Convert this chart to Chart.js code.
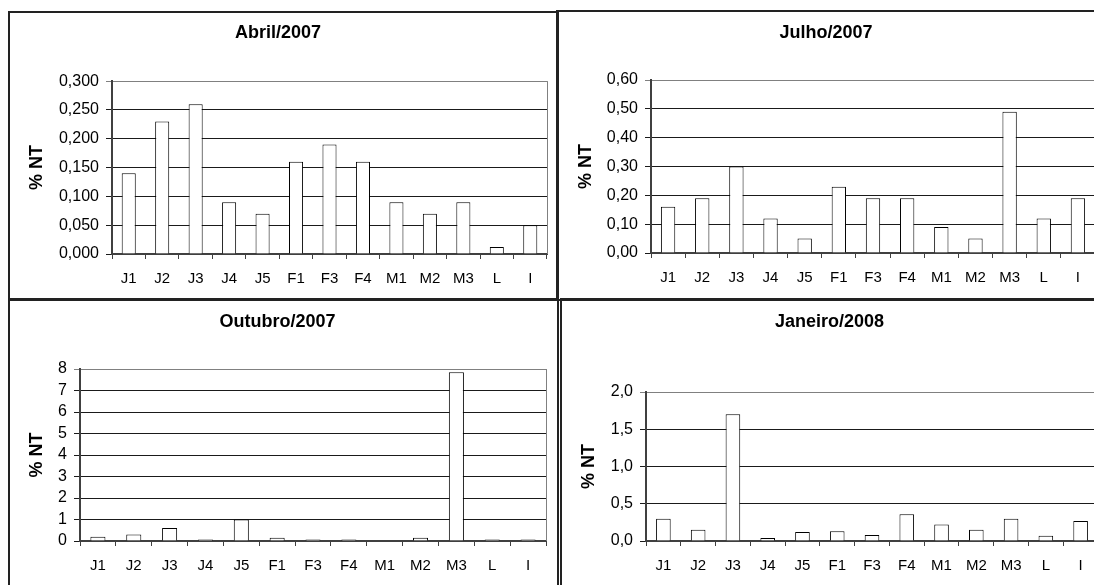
<!DOCTYPE html>
<html>
<head>
<meta charset="utf-8">
<script src="https://cdn.jsdelivr.net/npm/chart.js@4.4.0/dist/chart.umd.min.js"></script>
<style>
html,body{margin:0;padding:0;background:#fff;}
body{width:1094px;height:585px;overflow:hidden;position:relative;}
canvas{position:absolute;}
.box{position:absolute;border:2px solid #222;box-sizing:border-box;pointer-events:none;}
</style>
</head>
<body>
<canvas id="canvas1" style="left:9px;top:12px;width:548px;height:287px" width="548" height="287"></canvas>
<canvas id="canvas2" style="left:557px;top:11px;width:548px;height:288px" width="548" height="288"></canvas>
<canvas id="canvas3" style="left:9px;top:299px;width:548px;height:286px" width="548" height="286"></canvas>
<canvas id="canvas4" style="left:561px;top:299px;width:547px;height:286px" width="547" height="286"></canvas>
<div class="box" style="left:8px;top:11px;width:551px;height:290px"></div>
<div class="box" style="left:556px;top:10px;width:600px;height:291px"></div>
<div class="box" style="left:8px;top:298px;width:551px;height:400px"></div>
<div class="box" style="left:560px;top:298px;width:600px;height:400px"></div>
<script>
// categorias (pontos de coleta)
var categorias = ["J1","J2","J3","J4","J5","F1","F3","F4","M1","M2","M3","L","I"];

// % NT por campanha
var abril2007   = [0.14,0.23,0.26,0.09,0.07,0.16,0.19,0.16,0.09,0.07,0.09,0.012,0.05];
var julho2007   = [0.16,0.19,0.30,0.12,0.05,0.23,0.19,0.19,0.09,0.05,0.49,0.12,0.19];
var outubro2007 = [0.2,0.3,0.6,0.07,1.0,0.15,0.07,0.07,0,0.15,7.85,0.07,0.07];
var janeiro2008 = [0.30,0.15,1.70,0.04,0.12,0.13,0.08,0.36,0.22,0.15,0.30,0.07,0.27];

// marcas do eixo y
var abrilTickVal   = [0,0.05,0.1,0.15,0.2,0.25,0.3];
var abrilTickTxt   = ["0,000","0,050","0,100","0,150","0,200","0,250","0,300"];
var julhoTickVal   = [0,0.1,0.2,0.3,0.4,0.5,0.6];
var julhoTickTxt   = ["0,00","0,10","0,20","0,30","0,40","0,50","0,60"];
var outubroTickVal = [0,1,2,3,4,5,6,7,8];
var outubroTickTxt = ["0","1","2","3","4","5","6","7","8"];
var janeiroTickVal = [0,0.5,1,1.5,2];
var janeiroTickTxt = ["0,0","0,5","1,0","1,5","2,0"];

var fonte = "'Liberation Sans', Arial, sans-serif";

/**
 * borda cinza do lado direito da area do grafico
 */
var moldura = {
	id: 'moldura',
	beforeDatasetsDraw: function(chart){
		var a = chart.chartArea, ctx = chart.ctx;
		var x = Math.round(a.right) + 0.5;
		ctx.save();
		ctx.strokeStyle = '#808080';
		ctx.lineWidth = 1;
		ctx.beginPath();
		ctx.moveTo(x, a.top);
		ctx.lineTo(x, a.bottom);
		ctx.stroke();
		ctx.restore();
	}
};

/**
 * desenha um grafico de barras
 */
function paintBar(canvasId, titulo, valores, tickVal, tickTxt, lay){
	var ultimo = tickVal.length - 1;
	var config = {
		type: 'bar',
		data: {
			labels: categorias,
			datasets: [{
				data: valores,
				backgroundColor: '#ffffff',
				borderColor: '#000000',
				borderWidth: 1,
				barPercentage: 0.42,
				categoryPercentage: 1
			}]
		},
		options: {
			responsive: false,
			animation: false,
			devicePixelRatio: 1,
			layout: { padding: { left: 0, right: lay.right, top: 0, bottom: 0 } },
			plugins: {
				legend: { display: false },
				tooltip: { enabled: false },
				title: {
					display: true,
					text: titulo,
					color: '#000',
					font: { family: fonte, size: 18, weight: 'bold' },
					padding: { top: lay.titleTop, bottom: lay.titleBottom }
				}
			},
			scales: {
				x: {
					grid: { drawOnChartArea: false, offset: true, tickLength: 5, color: '#404040' },
					border: { color: '#404040', width: 2 },
					ticks: { color: '#000', padding: 11, maxRotation: 0, autoSkip: false,
						font: { family: fonte, size: 15 } },
					afterFit: function(s){ s.height = lay.xh; }
				},
				y: {
					min: 0,
					max: tickVal[ultimo],
					afterBuildTicks: function(s){
						s.ticks = tickVal.map(function(v){ return { value: v }; });
					},
					grid: {
						tickLength: 6,
						color: function(c){ return c.index === ultimo ? '#808080' : '#1a1a1a'; }
					},
					border: { color: '#404040', width: 2 },
					ticks: {
						color: '#000', padding: 7, autoSkip: false,
						font: { family: fonte, size: 16 },
						callback: function(v, i){ return tickTxt[i]; }
					},
					title: {
						display: true, text: '% NT', color: '#000',
						font: { family: fonte, size: 18, weight: 'bold' },
						padding: { top: lay.yt, bottom: 0 }
					},
					afterFit: function(s){ s.width = lay.left; }
				}
			}
		},
		plugins: [moldura]
	};
	var ctx = document.getElementById(canvasId).getContext("2d");
	return new Chart(ctx, config);
}

window.graf1 = paintBar("canvas1", "Abril/2007", abril2007, abrilTickVal, abrilTickTxt,
	{ left: 103, right: 10, xh: 45, titleTop: 10.5, titleBottom: 37, yt: 17.7 });
window.graf2 = paintBar("canvas2", "Julho/2007", julho2007, julhoTickVal, julhoTickTxt,
	{ left: 94, right: 10, xh: 46, titleTop: 11.2, titleBottom: 36.2, yt: 18.2 });
window.graf3 = paintBar("canvas3", "Outubro/2007", outubro2007, outubroTickVal, outubroTickTxt,
	{ left: 71, right: 11, xh: 44, titleTop: 12.2, titleBottom: 36.2, yt: 17.7 });
window.graf4 = paintBar("canvas4", "Janeiro/2008", janeiro2008, janeiroTickVal, janeiroTickTxt,
	{ left: 85, right: 10, xh: 44, titleTop: 12.2, titleBottom: 59.2, yt: 17.2 });
</script>
</body>
</html>
